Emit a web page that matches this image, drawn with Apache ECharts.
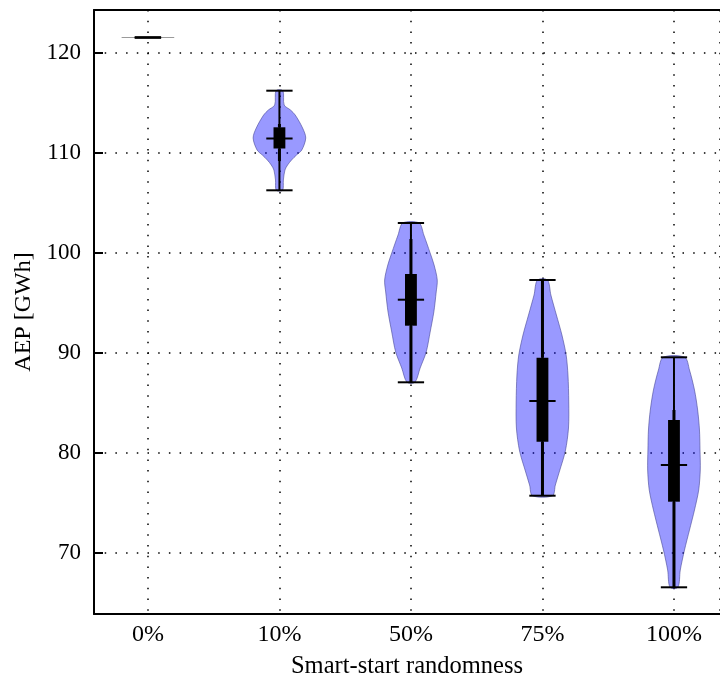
<!DOCTYPE html>
<html>
<head>
<meta charset="utf-8">
<script src="https://cdn.jsdelivr.net/npm/echarts@6/dist/echarts.min.js"></script>
<style>
  html, body { margin: 0; padding: 0; background: #fff; }
  #main { width: 720px; height: 676px; }
</style>
</head>
<body>
<div id="main"></div>
<script>
// categories and box statistics
var categories = ["0%", "10%", "50%", "75%", "100%"];
var minVals = [121.55, 106.27, 87.07, 75.73, 66.57];
var maxVals = [121.55, 116.23, 103.0, 97.3, 89.57];
var medians = [121.55, 111.45, 95.33, 85.2, 78.8];
var q1Vals = [121.55, 110.45, 92.73, 81.13, 75.13];
var q3Vals = [121.55, 112.57, 97.9, 89.53, 83.3];
var whiskLow = [121.55, 109.2, 87.07, 75.73, 66.57];
var whiskHigh = [121.55, 112.9, 101.4, 97.3, 84.3];

// violin outlines: AEP level and relative half width (1 = widest)
var profileY = [
  [121.55],
  [116.23, 114.8, 114.3, 113.8, 112.5, 111.5, 110.3, 109.8, 109.3, 108.8, 108.3, 107.3, 106.27],
  [103.0, 101.8, 100.0, 98.8, 97.3, 96.1, 94.1, 92.1, 90.1, 88.5, 87.07],
  [97.3, 95.8, 93.8, 91.8, 89.8, 87.8, 85.1, 82.5, 80.2, 78.2, 76.8, 75.73],
  [89.57, 88.3, 86.3, 84.3, 82.3, 80.3, 78.3, 76.3, 74.3, 72.3, 70.3, 68.3, 66.57]
];
var profileW = [
  [1],
  [0.13, 0.18, 0.42, 0.6, 0.88, 1.0, 0.85, 0.65, 0.46, 0.31, 0.21, 0.15, 0.12],
  [0.31, 0.49, 0.73, 0.88, 1.0, 0.96, 0.87, 0.73, 0.58, 0.35, 0.15],
  [0.19, 0.32, 0.53, 0.74, 0.9, 0.97, 1.0, 0.99, 0.87, 0.65, 0.49, 0.38],
  [0.41, 0.59, 0.78, 0.9, 0.97, 0.99, 1.0, 0.94, 0.78, 0.59, 0.4, 0.24, 0.15]
];

var maxHalf = 0.2;   // half width of widest violin, in x units
var capHalf = 0.1;
var boxHalf = 0.045;

function renderItem(params, api) {
  var i = api.value(0);
  var x = i + 1;
  var children = [];
  var ys = profileY[i], ws = profileW[i];

  if (ys.length === 1) {
    var a = api.coord([x - maxHalf, ys[0]]);
    var b = api.coord([x + maxHalf, ys[0]]);
    children.push({ type: "line", shape: { x1: a[0], y1: a[1], x2: b[0], y2: b[1] },
      style: { stroke: "#9a9a9a", lineWidth: 1 } });
  } else {
    var pts = [];
    for (var k = 0; k < ys.length; k++) pts.push(api.coord([x - ws[k] * maxHalf, ys[k]]));
    for (var k = ys.length - 1; k >= 0; k--) pts.push(api.coord([x + ws[k] * maxHalf, ys[k]]));
    children.push({ type: "polygon", shape: { points: pts, smooth: 0.3 },
      style: { fill: "rgba(0,0,255,0.4)", stroke: "rgba(70,70,150,0.6)", lineWidth: 1 } });
  }

  function hline(v, half, w) {
    var a = api.coord([x - half, v]);
    var b = api.coord([x + half, v]);
    children.push({ type: "line", shape: { x1: a[0], y1: a[1], x2: b[0], y2: b[1] },
      style: { stroke: "#000", lineWidth: w } });
  }
  function vline(v1, v2, w) {
    var a = api.coord([x, v1]);
    var b = api.coord([x, v2]);
    children.push({ type: "line", shape: { x1: a[0], y1: a[1], x2: b[0], y2: b[1] },
      style: { stroke: "#000", lineWidth: w } });
  }

  vline(minVals[i], maxVals[i], 2);
  vline(q3Vals[i], whiskHigh[i], 3);
  vline(whiskLow[i], q1Vals[i], 3);
  var tl = api.coord([x - boxHalf, q3Vals[i]]);
  var br = api.coord([x + boxHalf, q1Vals[i]]);
  children.push({ type: "rect", shape: { x: tl[0], y: tl[1], width: br[0] - tl[0], height: Math.max(br[1] - tl[1], 0) },
    style: { fill: "#000" } });
  hline(minVals[i], capHalf, 2);
  hline(maxVals[i], capHalf, 2);
  hline(medians[i], capHalf, 2);

  return { type: "group", children: children };
}

var chartDom = document.getElementById("main");
var myChart = echarts.init(chartDom);
var fontFamily = "Liberation Serif";
var dotted = { color: "#000", width: 1.5, type: [1.5, 9.2] };
var frame = { show: true, onZero: false, lineStyle: { color: "#000", width: 2 } };

myChart.setOption({
  animation: false,
  grid: {
    left: 94,
    right: 0,
    top: 10,
    bottom: 62,
    containLabel: false,
    outerBoundsMode: "none"
  },
  xAxis: [{
    type: "value",
    min: 0.59,
    max: 5.35,   // the plot is cut off at the right edge, as in the original
    name: "Smart-start randomness",
    nameLocation: "middle",
    nameGap: 40,
    nameTextStyle: { fontFamily: fontFamily, fontSize: 24.5, color: "#000" },
    axisLine: frame,
    axisTick: { show: false },
    splitLine: { show: true, lineStyle: dotted },
    axisLabel: {
      margin: 9,
      fontFamily: fontFamily,
      fontSize: 24,
      color: "#000",
      showMinLabel: false,
      showMaxLabel: false,
      formatter: function (v) {
        var r = Math.round(v);
        return Math.abs(v - r) < 1e-6 && categories[r - 1] ? categories[r - 1] : "";
      }
    }
  }, {
    // top border only
    type: "value",
    position: "top",
    min: 0.59,
    max: 5.35,
    axisLine: frame,
    axisTick: { show: false },
    axisLabel: { show: false },
    splitLine: { show: false }
  }],
  yAxis: {
    type: "value",
    min: 63.9,
    max: 124.3,
    name: "AEP [GWh]",
    nameLocation: "middle",
    nameGap: 58,
    nameTextStyle: { fontFamily: fontFamily, fontSize: 24, color: "#000" },
    axisLine: frame,
    axisTick: { show: true, inside: true, length: 9, lineStyle: { color: "#000", width: 2 } },
    splitLine: { show: true, lineStyle: dotted },
    axisLabel: {
      margin: 13,
      fontFamily: fontFamily,
      fontSize: 23,
      color: "#000",
      showMinLabel: false,
      showMaxLabel: false,
      formatter: function (v) {
        return Math.abs(v - Math.round(v)) < 1e-6 && Math.round(v) % 10 === 0 ? String(Math.round(v)) : "";
      }
    }
  },
  series: [{
    type: "custom",
    renderItem: renderItem,
    data: categories.map(function (c, i) { return [i]; }),
    encode: { x: 0 },
    silent: true
  }]
});
</script>
</body>
</html>
